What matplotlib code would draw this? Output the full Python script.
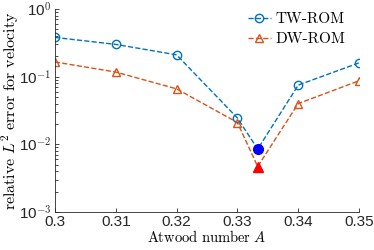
import numpy as np
import matplotlib
matplotlib.use('Agg')
import matplotlib.pyplot as plt
from matplotlib.lines import Line2D

plt.rcParams['font.family'] = ['Liberation Sans', 'DejaVu Sans']
plt.rcParams['mathtext.fontset'] = 'cm'

# data
atwood = [0.30, 0.31, 0.32, 0.33, 0.34, 0.35]
tw_err = [0.38, 0.30, 0.21, 0.0245, 0.075, 0.16]
dw_err = [0.165, 0.117, 0.066, 0.021, 0.040, 0.087]
a_train = 1 / 3
tw_train = 0.0085
dw_train = 0.0047

blue = (0, 0.447, 0.741)
orange = (0.85, 0.325, 0.098)

# insert the training point in the dashed curves
x_all = atwood[:4] + [a_train] + atwood[4:]
tw_all = tw_err[:4] + [tw_train] + tw_err[4:]
dw_all = dw_err[:4] + [dw_train] + dw_err[4:]

fig = plt.figure(figsize=(3.74, 2.5), dpi=100)
ax = fig.add_axes([0.147, 0.152, 0.813, 0.812])

ax.plot(x_all, tw_all, '--', color=blue, lw=1)
ax.plot(x_all, dw_all, '--', color=orange, lw=1)
ax.plot(atwood, tw_err, 'o', color=blue, mfc='none', ms=6, mew=1)
ax.plot(atwood, dw_err, '^', color=orange, mfc='none', ms=6, mew=1)

ax.plot(a_train, tw_train, 'o', color='blue', ms=7)
ax.plot(a_train, dw_train, '^', color='red', ms=7)

handles = [Line2D([], [], color=blue, ls='--', lw=1, marker='o', mfc='none', ms=6),
           Line2D([], [], color=orange, ls='--', lw=1, marker='^', mfc='none', ms=6)]
ax.legend(handles, ['TW-ROM', 'DW-ROM'], loc='upper right', frameon=False,
          handlelength=1.5, handletextpad=0.3, labelspacing=0.4,
          prop={'family': 'cmr10', 'size': 11}, bbox_to_anchor=(1.0, 1.05))

ax.set_yscale('log')
ax.set_ylim(1e-3, 1)
ax.set_xlim(0.3, 0.35)
ax.set_xticks(atwood)
ax.set_xticklabels(['0.3', '0.31', '0.32', '0.33', '0.34', '0.35'])
ax.set_yticks([1e-3, 1e-2, 1e-1, 1])
ax.set_yticklabels([r'10$^{-3}$', r'10$^{-2}$', r'10$^{-1}$', r'10$^{0}$'])

for s in ['top', 'right']:
    ax.spines[s].set_visible(False)
for s in ['left', 'bottom']:
    ax.spines[s].set_color('#262626')
    ax.spines[s].set_linewidth(0.6)
ax.tick_params(direction='in', labelsize=11, colors='#262626', length=3, width=0.6, pad=2.5)
ax.tick_params(which='minor', direction='in', length=1.8, width=0.5)

ax.set_xlabel(r'$\mathrm{Atwood\ number}\ A$', fontsize=10.5, labelpad=0)
ax.set_ylabel(r'$\mathrm{relative}\ L^2\ \mathrm{error\ for\ velocity}$', fontsize=11.5)
ax.yaxis.set_label_coords(-0.112, 0.5)

fig.savefig('out.png', dpi=100)
